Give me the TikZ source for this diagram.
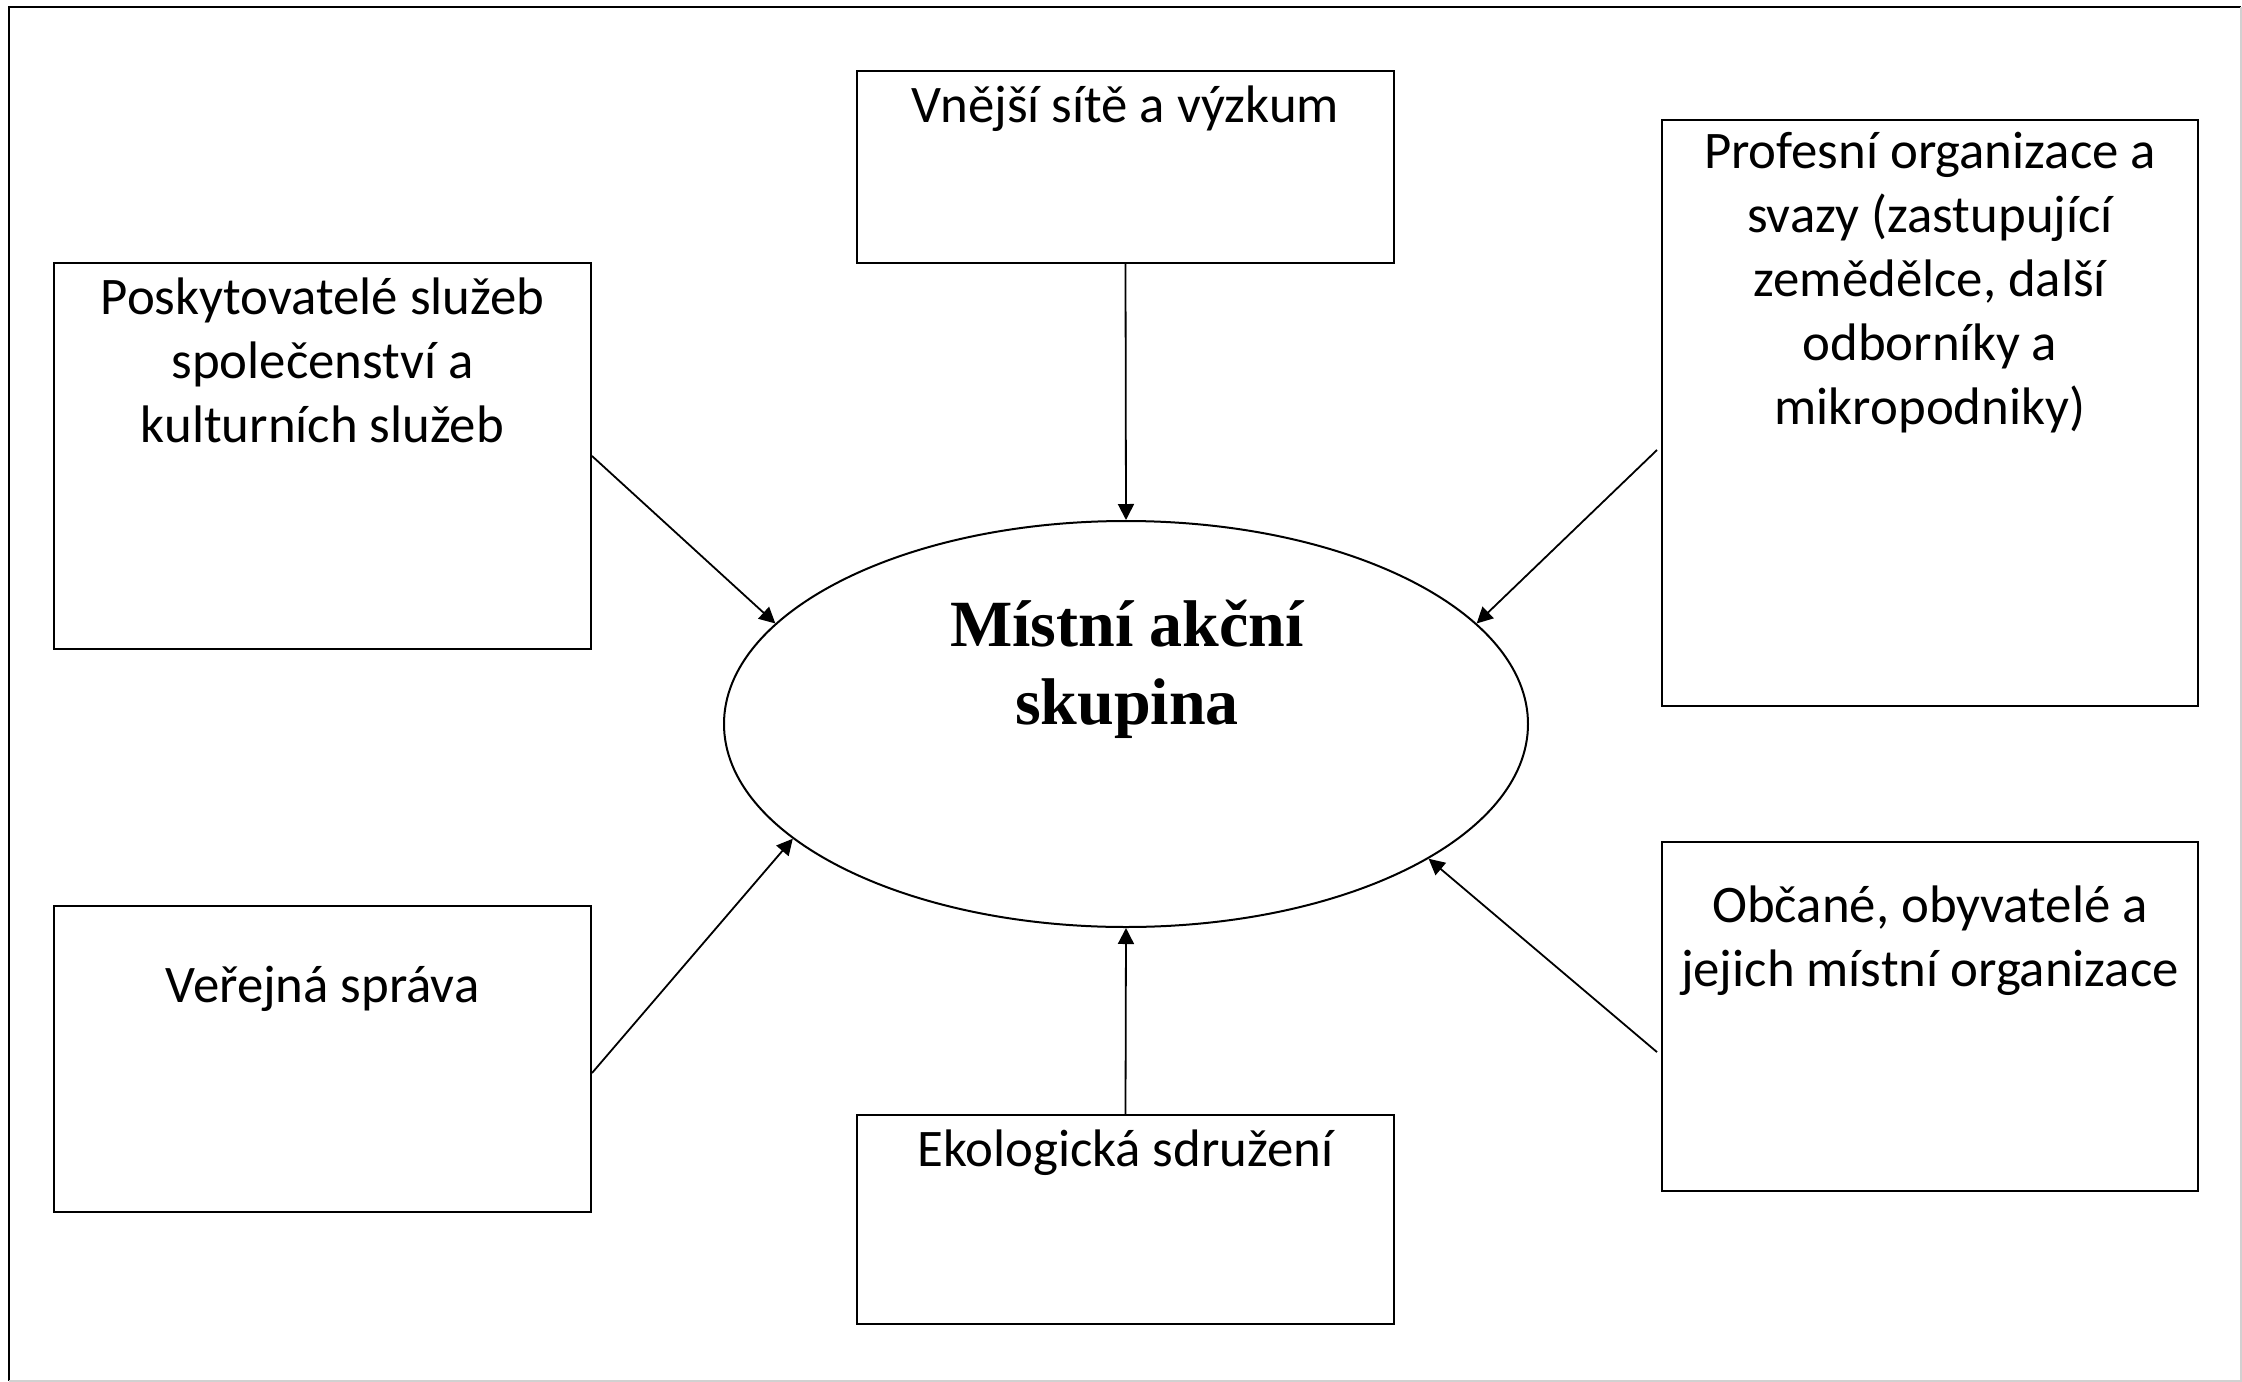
\documentclass[tikz,border=0pt]{standalone}
\usepackage{fontspec}
\setmainfont{Carlito}
\newfontfamily\lasfont{Liberation Serif}
\usetikzlibrary{arrows.meta,shapes.geometric}
\tikzset{
  boxnode/.style={draw, line width=0.5pt, inner sep=0pt, minimum width=134.25pt},
  lbl/.style={anchor=base, align=center, inner sep=0pt, font=\fontsize{13.2pt}{16pt}\selectfont},
  arr/.style={line width=0.45pt, -{Triangle[length=4pt,width=4pt]}},
}
\begin{document}
\begin{tikzpicture}[x=0.25pt, y=-0.25pt]
\useasboundingbox (0,0) rectangle (2242,1382);
% outer frame
\draw[line width=0.6pt] (9,1381) -- (9,7) -- (2241,7);
\draw[black!18, line width=0.6pt] (2241,7) -- (2241,1381) -- (9,1381);
% boxes
\node[boxnode, minimum height=47.9pt] (topbox) at (1125.5,167) {};
\node[boxnode, minimum height=96.5pt] (ltbox) at (322.5,456) {};
\node[boxnode, minimum height=146.5pt, minimum width=134pt] (rtbox) at (1930,413) {};
\node[boxnode, minimum height=76.5pt] (lbbox) at (322.5,1059) {};
\node[boxnode, minimum height=52.25pt] (botbox) at (1125.5,1219.5) {};
\node[boxnode, minimum height=87.25pt, minimum width=134pt] (rbbox) at (1930,1016.5) {};
% central ellipse
\node[draw, ellipse, line width=0.5pt, inner sep=0pt, minimum width=201pt, minimum height=101.5pt] (mag) at (1126,724) {};
% labels (base anchor = baseline of the last line)
\node[lbl] (ttop) at (1125.5,122) {Vnější sítě a výzkum};
\node[lbl] (tlt) at (322.5,442) {Poskytovatelé služeb\\společenství a\\kulturních služeb};
\node[lbl] (trt) at (1930,424) {Profesní organizace a\\svazy (zastupující\\zemědělce, další\\odborníky a\\mikropodniky)};
\node[lbl] (tlb) at (322.5,1002) {Veřejná správa};
\node[lbl] (tbot) at (1125.5,1166) {Ekologická sdružení};
\node[lbl] (trb) at (1930,986) {Občané, obyvatelé a\\jejich místní organizace};
\node[anchor=base, align=center, inner sep=0pt, font=\lasfont\bfseries\fontsize{16.5pt}{19.5pt}\selectfont] (tmag) at (1127,724) {Místní akční\\skupina};
% connectors
\draw[arr] (topbox.south) -- (mag.north);
\draw[arr] (botbox.north) -- (mag.south);
\draw[arr] (ltbox.east) -- (mag.164.8);
\draw[arr] ([xshift=-1pt,yshift=-9.25pt]rtbox.west) -- (mag.16.2);
\draw[arr] ([yshift=-3.5pt]lbbox.east) -- (mag.199.1);
\draw[arr] ([xshift=-1pt,yshift=-8.9pt]rbbox.west) -- (mag.336.3);
\end{tikzpicture}
\end{document}
